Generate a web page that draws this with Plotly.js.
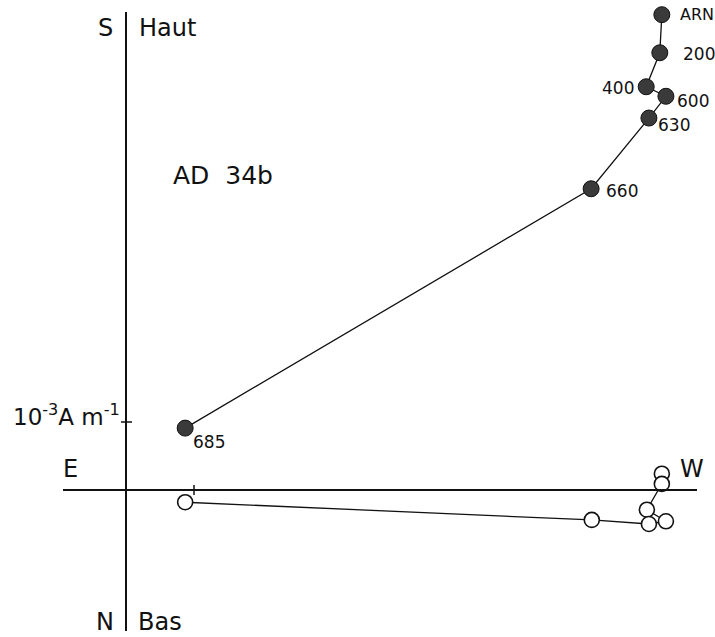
<!DOCTYPE html>
<html><head><meta charset="utf-8">
<script src="https://cdn.plot.ly/plotly-3.0.1.min.js"></script>
<style>html,body{margin:0;padding:0;background:#fff}#c{width:715px;height:637px}</style>
</head><body><div id="c"></div>
<script>
// Demagnetisation steps (°C) and component values (units of 10^-3 A/m)
var steps = ["ARN", "200", "400", "600", "630", "660", "685"];
// vertical projection (filled): horizontal = E-W component, vertical = Up/Down
var vertX = [7.88, 7.85, 7.65, 7.94, 7.69, 6.84, 0.87];
var vertY = [6.99, 6.43, 5.93, 5.79, 5.47, 4.43, 0.91];
// horizontal projection (open): horizontal = E-W component, vertical = N-S component
var horX = [7.88, 7.88, 7.66, 7.94, 7.69, 6.85, 0.87];
var horY = [0.24, 0.09, -0.29, -0.46, -0.50, -0.44, -0.18];

// label placement (pixel offsets from each filled point)
var labShiftX = [16, 21, -10, 9, 7, 13, 6];
var labShiftY = [0, -1, -1, -5, -7, -2, -14];
var labAnchor = ["left", "left", "right", "left", "left", "left", "left"];
var labSize = [16, 17, 17, 17, 17, 17, 17];

var F = "DejaVu Sans, sans-serif";
var S = 68, OX = 126, OY = 490;           // pixel scale of one unit and origin
function dx(px){ return (px - OX) / S; }
function dy(py){ return (OY - py) / S; }

var traces = [
  {x: horX, y: horY, mode: "lines+markers", type: "scatter",
   line: {color: "#111", width: 1.3},
   marker: {size: 15, color: "#fff", line: {color: "#111", width: 1.6}},
   cliponaxis: false, hoverinfo: "skip"},
  {x: vertX, y: vertY, mode: "lines+markers", type: "scatter",
   line: {color: "#111", width: 1.3},
   marker: {size: 16, color: "#3a3a3a", line: {color: "#111", width: 1}},
   cliponaxis: false, hoverinfo: "skip"}
];

function txt(t, px, py, size, anchor){
  return {text: t, x: dx(px), y: dy(py), xref: "x", yref: "y", showarrow: false,
    xanchor: anchor || "center", yanchor: "middle", font: {family: F, size: size, color: "#111"}};
}

var ann = [
  txt("S", 105, 28, 24),
  txt("Haut", 137, 28, 24, "left"),
  txt("N", 105, 622, 24),
  txt("Bas", 136, 622, 24, "left"),
  txt("AD  34b", 171, 175, 25, "left"),
  txt("E", 70, 469, 24),
  txt("W", 692, 469, 24),
  txt("10<sup>-3</sup>A m<sup>-1</sup>", 122, 415, 23, "right")
];
for (var i = 0; i < steps.length; i++) {
  ann.push({text: steps[i], x: vertX[i], y: vertY[i], xref: "x", yref: "y", showarrow: false,
    xanchor: labAnchor[i], yanchor: "middle", xshift: labShiftX[i], yshift: labShiftY[i],
    font: {family: F, size: labSize[i], color: "#111"}});
}

var layout = {
  width: 715, height: 637,
  margin: {l: 0, r: 0, t: 0, b: 0},
  paper_bgcolor: "#fff", plot_bgcolor: "#fff",
  showlegend: false,
  xaxis: {range: [dx(0), dx(715)], visible: false, fixedrange: true},
  yaxis: {range: [dy(637), dy(0)], visible: false, fixedrange: true},
  shapes: [
    {type: "line", xref: "x", yref: "y", x0: dx(63), x1: dx(697), y0: 0, y1: 0, line: {color: "#111", width: 2}},
    {type: "line", xref: "x", yref: "y", x0: 0, x1: 0, y0: dy(12), y1: dy(631), line: {color: "#111", width: 2}},
    {type: "line", xref: "x", yref: "y", x0: dx(121), x1: dx(132), y0: 1, y1: 1, line: {color: "#111", width: 1.5}},
    {type: "line", xref: "x", yref: "y", x0: 1, x1: 1, y0: dy(485), y1: dy(495), line: {color: "#111", width: 1.5}}
  ],
  annotations: ann
};
Plotly.newPlot("c", traces, layout, {staticPlot: true, displayModeBar: false});
</script></body></html>
